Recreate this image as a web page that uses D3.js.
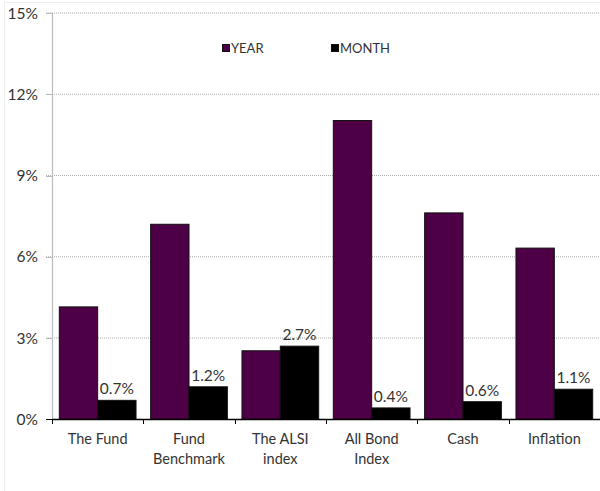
<!DOCTYPE html>
<html><head><meta charset="utf-8">
<script src="https://cdn.jsdelivr.net/npm/d3@7"></script>
<style>body{margin:0;background:#fff}svg{display:block;font-family:Lato,"Open Sans",sans-serif;font-weight:400}</style>
</head><body><svg id="c" width="600" height="491"></svg>
<script>
const categories = [["The Fund"],["Fund","Benchmark"],["The ALSI","index"],["All Bond","Index"],["Cash"],["Inflation"]];
const seriesNames = ["YEAR","MONTH"];
const yearValues = [4.15, 7.2, 2.53, 11.03, 7.62, 6.32];
const monthValues = [0.7, 1.2, 2.7, 0.42, 0.65, 1.11];
const monthLabels = ["0.7%","1.2%","2.7%","0.4%","0.6%","1.1%"];
const yTicks = [0,3,6,9,12,15];
const colors = ["#4d0045","#000000"];

const svg = d3.select("#c");
const m = {l:52, r:0, t:13, b:72};
const W = 600, H = 491;
// faint frame
svg.append("rect").attr("x",4.5).attr("y",2.5).attr("width",620).attr("height",520)
  .attr("fill","none").attr("stroke","#eeeeee");

const x0 = d3.scaleBand().domain(d3.range(categories.length)).range([m.l, W-m.r]);
const y = d3.scaleLinear().domain([0,15]).range([419.3, 13]);

// gridlines
svg.append("g").selectAll("line").data(yTicks).join("line")
  .attr("x1",46).attr("x2",W).attr("y1",d=>y(d)).attr("y2",d=>y(d))
  .attr("stroke",d=>d===0?"none":"#aaaaaa").attr("stroke-dasharray","1,1").attr("stroke-width",1);
// y ticks gray
svg.append("g").selectAll("line").data(yTicks).join("line")
  .attr("x1",46).attr("x2",52).attr("y1",d=>Math.round(y(d))+0.5).attr("y2",d=>Math.round(y(d))+0.5)
  .attr("stroke",d=>d===0?"#000":"#bbbbbb");
// y axis line
svg.append("line").attr("x1",52.5).attr("x2",52.5).attr("y1",13).attr("y2",419.5).attr("stroke","#bbbbbb").attr("stroke-width",1.2);
// y labels
svg.append("g").selectAll("text").data(yTicks).join("text")
  .attr("x",38).attr("y",d=>y(d)+5.5).attr("text-anchor","end").attr("font-size",15.5).attr("fill","#333")
  .text(d=>d+"%");

const groupW = x0.bandwidth()*0.84;
const bx = i => x0(i) + (x0.bandwidth()-groupW)/2;
const bw = groupW/2;

const g = svg.append("g");
g.selectAll("rect.y").data(yearValues).join("rect").attr("class","y")
  .attr("x",(d,i)=>bx(i)).attr("width",bw).attr("y",d=>y(d)).attr("height",d=>y(0)-y(d))
  .attr("fill",colors[0]).attr("stroke","#111").attr("stroke-width",1);
g.selectAll("rect.m").data(monthValues).join("rect").attr("class","m")
  .attr("x",(d,i)=>bx(i)+bw).attr("width",bw).attr("y",d=>y(d)).attr("height",d=>y(0)-y(d))
  .attr("fill",colors[1]).attr("stroke","#111").attr("stroke-width",1);
g.selectAll("text.lab").data(monthValues).join("text").attr("class","lab")
  .attr("x",(d,i)=>bx(i)+bw*1.5).attr("y",d=>y(d)-6).attr("text-anchor","middle")
  .attr("font-size",15.5).attr("fill","#333").text((d,i)=>monthLabels[i]);

// x axis
svg.append("line").attr("x1",52).attr("x2",W).attr("y1",419.5).attr("y2",419.5).attr("stroke","#000").attr("stroke-width",1.3);
svg.append("g").selectAll("line").data(d3.range(categories.length+1)).join("line")
  .attr("x1",i=>Math.round(52+i*x0.bandwidth())+0.5).attr("x2",i=>Math.round(52+i*x0.bandwidth())+0.5)
  .attr("y1",419).attr("y2",424).attr("stroke","#000");
const xl = svg.append("g").selectAll("text").data(categories).join("text")
  .attr("text-anchor","middle").attr("font-size",14.5).attr("fill","#333");
xl.each(function(d,i){
  const t = d3.select(this);
  d.forEach((s,k)=>t.append("tspan").attr("x",x0(i)+x0.bandwidth()/2).attr("y",444+k*20).text(s));
});

// legend
const leg = [{n:seriesNames[0],x:222},{n:seriesNames[1],x:331}];
const lg = svg.append("g").selectAll("g").data(leg).join("g");
lg.append("rect").attr("x",d=>d.x+0.5).attr("y",44.5).attr("width",7).attr("height",7)
  .attr("fill",(d,i)=>colors[i]).attr("stroke","#111");
lg.append("text").attr("x",d=>d.x+9).attr("y",52.5).attr("font-size",13).attr("fill","#333").text(d=>d.n);
</script></body></html>
